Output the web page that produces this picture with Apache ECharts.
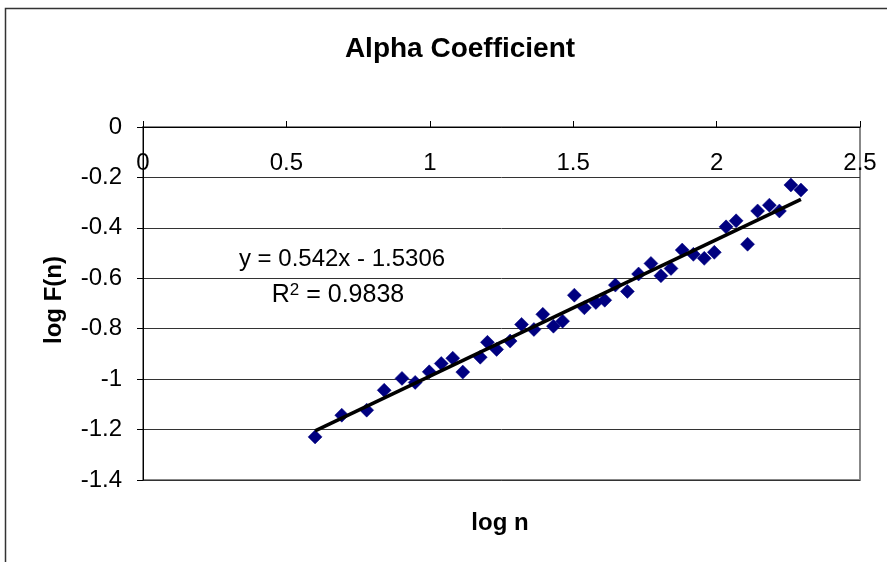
<!DOCTYPE html>
<html>
<head>
<meta charset="utf-8">
<script src="https://cdn.jsdelivr.net/npm/echarts@6/dist/echarts.min.js"></script>
<style>
  html, body { margin: 0; padding: 0; background: #fff; }
  #main { width: 887px; height: 562px; }
</style>
</head>
<body>
<div id="main"></div>
<script>
// log n values
var logN = [0.600, 0.693, 0.780, 0.841, 0.903, 0.949, 0.998, 1.040, 1.080, 1.115,
  1.176, 1.201, 1.233, 1.280, 1.320, 1.363, 1.394, 1.431, 1.463, 1.504,
  1.539, 1.579, 1.610, 1.647, 1.689, 1.728, 1.771, 1.806, 1.841, 1.880,
  1.919, 1.957, 1.992, 2.033, 2.068, 2.108, 2.143, 2.184, 2.219, 2.259, 2.294];
// log F(n) values
var logF = [-1.229, -1.143, -1.123, -1.044, -0.997, -1.013, -0.971, -0.938, -0.917, -0.972,
  -0.913, -0.854, -0.882, -0.849, -0.783, -0.803, -0.743, -0.790, -0.770, -0.667,
  -0.717, -0.696, -0.687, -0.627, -0.652, -0.583, -0.541, -0.590, -0.561, -0.488,
  -0.505, -0.521, -0.497, -0.396, -0.372, -0.465, -0.333, -0.310, -0.333, -0.230, -0.250];
// linear trend line end points (y = 0.542x - 1.5306)
var trendX = [0.600, 2.294];
var trendY = [-1.2054, -0.2872];

var xTicks = ['0', '0.5', '1', '1.5', '2', '2.5'];
var yTicks = ['0', '-0.2', '-0.4', '-0.6', '-0.8', '-1', '-1.2', '-1.4'];

var points = logN.map(function (x, i) { return [x, logF[i]]; });
var trend = trendX.map(function (x, i) { return [x, trendY[i]]; });

var font = 'Liberation Sans, Arial, sans-serif';
var myChart = echarts.init(document.getElementById('main'));

var option = {
  backgroundColor: '#fff',
  animation: false,
  title: {
    text: 'Alpha Coefficient',
    left: 455,
    top: 30,
    textAlign: 'center',
    textStyle: { fontFamily: font, fontSize: 28, fontWeight: 'bold', color: '#000' }
  },
  grid: {
    left: 143, top: 127, right: 27, bottom: 82,
    show: true,
    borderColor: '#888',
    borderWidth: 2,
    backgroundColor: '#fff'
  },
  xAxis: {
    type: 'value',
    position: 'top',
    min: 0, max: 2.5, interval: 0.5,
    axisLine: { onZero: false, lineStyle: { color: '#000', width: 1 } },
    axisTick: { show: true, inside: false, length: 6, lineStyle: { color: '#000' } },
    axisLabel: {
      inside: true, margin: 24,
      fontFamily: font, fontSize: 24, color: '#000',
      formatter: function (v) { return xTicks[Math.round(v / 0.5)]; }
    },
    splitLine: { show: false }
  },
  yAxis: {
    type: 'value',
    min: -1.4, max: 0, interval: 0.2,
    axisLine: { onZero: false, lineStyle: { color: '#000', width: 1 } },
    axisTick: { show: true, inside: false, length: 6, lineStyle: { color: '#000' } },
    axisLabel: {
      margin: 21,
      fontFamily: font, fontSize: 24, color: '#000',
      formatter: function (v) { return yTicks[Math.round(-v / 0.2)]; }
    },
    splitLine: { show: true, lineStyle: { color: '#333', width: 1 } }
  },
  graphic: [
    {
      type: 'polyline', silent: true, z: -10,
      shape: { points: [[5.5, 562], [5.5, 8.5], [887, 8.5]] },
      style: { stroke: '#333', lineWidth: 1.5, fill: null }
    },
    {
      type: 'text', x: 500, y: 523,
      style: {
        text: 'log n', align: 'center', verticalAlign: 'middle',
        font: 'bold 24px ' + font, fill: '#000'
      }
    },
    {
      type: 'text', x: 54, y: 300, rotation: Math.PI / 2,
      style: {
        text: 'log F(n)', align: 'center', verticalAlign: 'middle',
        font: 'bold 24px ' + font, fill: '#000'
      }
    },
    {
      type: 'text', x: 342, y: 259, z: 20,
      style: {
        text: 'y = 0.542x - 1.5306', align: 'center', verticalAlign: 'middle',
        font: '24px ' + font, fill: '#000'
      }
    },
    {
      type: 'text', x: 338, y: 295, z: 20,
      style: {
        text: '{r|R}{s|2}{r| = 0.9838}', align: 'center', verticalAlign: 'middle',
        rich: {
          r: { fontFamily: font, fontSize: 25, fill: '#000', color: '#000' },
          s: { fontFamily: font, fontSize: 17, fill: '#000', color: '#000', verticalAlign: 'top', padding: [0, 0, 10, 0] }
        }
      }
    }
  ],
  series: [
    {
      name: 'log F(n)',
      type: 'scatter',
      data: points,
      symbol: 'diamond',
      symbolSize: 14,
      itemStyle: { color: '#000080', borderColor: '#000080', borderWidth: 0.5, opacity: 1 },
      z: 3
    },
    {
      name: 'Linear (log F(n))',
      type: 'line',
      data: trend,
      showSymbol: false,
      lineStyle: { color: '#000', width: 3.5 },
      z: 4
    }
  ]
};

myChart.setOption(option, true);
</script>
</body>
</html>
